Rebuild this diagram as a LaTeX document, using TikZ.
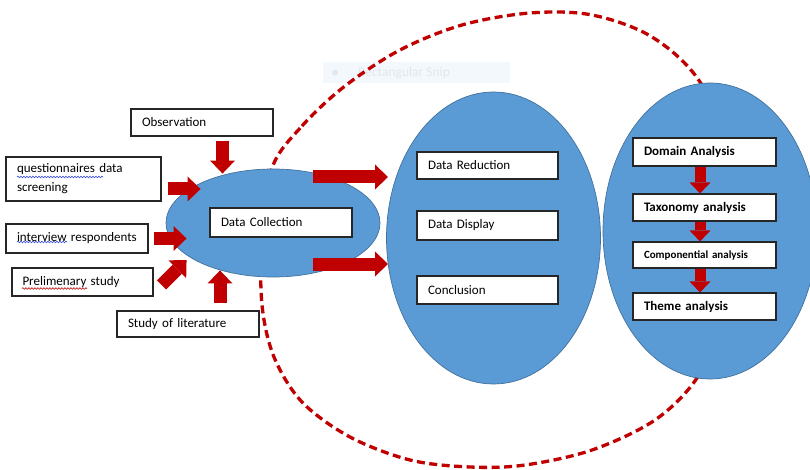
\documentclass[tikz,border=0pt]{standalone}
\usepackage{fontspec}
\setmainfont{Carlito}
\usetikzlibrary{arrows.meta,shapes.geometric,decorations.pathmorphing}
\definecolor{dred}{HTML}{C00000}
\definecolor{eblue}{HTML}{5B9BD5}
\definecolor{eborder}{HTML}{41719C}
\definecolor{snipbg}{HTML}{F3F8FD}
\definecolor{snipfg}{HTML}{E3E7EC}
\definecolor{spellblue}{HTML}{3B4FE0}
\begin{document}
\begin{tikzpicture}[x=1pt,y=-1pt,
  blob/.style={ellipse, draw=eborder, line width=0.7pt, fill=eblue, inner sep=0pt},
  box/.style={draw=black!85, fill=white, line width=1.1pt, inner xsep=11pt, inner ysep=0pt,
    align=left, font=\fontsize{13}{19}\selectfont},
  bbox/.style={box, font=\fontsize{13}{16}\bfseries},
  bigarrow/.style={draw=dred, line width=13pt, -{Triangle[length=13pt,width=25pt,line width=0pt]}},
  smallarrow/.style={draw=dred, line width=11pt, -{Triangle[length=11pt,width=21pt,line width=0pt]}},
  loopline/.style={draw=dred, line width=3.3pt, dash pattern=on 8pt off 4.5pt},
  spell/.style={line width=0.6pt, decorate, decoration={snake, amplitude=0.8pt, segment length=3pt}}
]
\useasboundingbox (0,0) rectangle (810,470);
\fill[white] (0,0) rectangle (810,470);

% faint screenshot artefact
\fill[snipbg] (323,62) rectangle (510,83);
\fill[snipfg] (335,72.5) circle (3);
\node[anchor=west, text=snipfg, inner sep=0pt, font=\fontsize{13.5}{15}\selectfont] (snip) at (358,72.5) {Rectangular Snip};

% dashed loop
\draw[loopline] plot[smooth cycle, tension=0.55] coordinates {
 (272,168) (302,126) (345,86) (400,50) (462,25) (530,13) (592,15) (652,37) (700,82)
 (732,160) (738,240) (722,320) (697,378) (655,420) (592,450) (525,465) (470,467)
 (410,460) (350,437) (302,402) (274,357) (262,305) (262,240)};

% ellipses
\node[blob, minimum width=214pt, minimum height=108pt] (dce) at (273,223) {};
\node[blob, minimum width=214pt, minimum height=292pt] (mid) at (493.5,238) {};
\node[blob, minimum width=214pt, minimum height=296pt] (rgt) at (710,231) {};

% left boxes
\node[box, text width=120pt, minimum height=27pt] (obs) at (202,122.5) {Observation};
\node[box, text width=133pt, minimum height=44pt] (ques) at (83.5,179) {questionnaires data\\screening};
\node[box, text width=120pt, minimum height=29pt] (intv) at (77,238.5) {\mbox{interview respondents}};
\node[box, text width=120pt, minimum height=28pt, inner xsep=10.5pt] (prel) at (82.5,282) {Prelimenary study};
\node[box, text width=120pt, minimum height=26pt] (lit) at (188,324) {Study of literature};
\node[box, text width=120pt, minimum height=29pt] (dc) at (281,222.5) {Data Collection};

% middle boxes
\node[box, text width=119pt, minimum height=27pt] (dr) at (487.5,165.5) {Data Reduction};
\node[box, text width=119pt, minimum height=29pt] (dd) at (487.5,225.5) {Data Display};
\node[box, text width=119pt, minimum height=28pt] (cc) at (487.5,290) {Conclusion};

% right boxes
\node[bbox, text width=121pt, minimum height=28pt] (da) at (704.5,152) {Domain Analysis};
\node[bbox, text width=121pt, minimum height=27pt] (ta) at (704.5,207.5) {Taxonomy analysis};
\node[bbox, text width=121pt, minimum height=26pt, font=\fontsize{11}{13}\bfseries] (ca) at (704.5,255) {Componential analysis};
\node[bbox, text width=121pt, minimum height=27pt] (th) at (704.5,306.5) {Theme analysis};

% spelling underlines
\draw[spell, spellblue] (17,177) -- (103,177);
\draw[spell, spellblue] (17,242) -- (67,242);
\draw[spell, dred] (22,288.5) -- (87,288.5);

% input arrows
\draw[bigarrow] ([shift={(20.5pt,-4pt)}]obs.south) -- ++(0,33);
\draw[bigarrow] ([shift={(6pt,-10pt)}]ques.east) -- ++(33,0);
\draw[bigarrow] ([xshift=5pt]intv.east) -- ++(33,0);
\draw[bigarrow] ([shift={(8pt,-3pt)}]prel.east) -- ++(25,-25);
\draw[bigarrow] ([shift={(32pt,7pt)}]lit.north) -- ++(0,-33);

% output arrows
\draw[bigarrow] ([shift={(40pt,46pt)}]dce.center) -- ++(75,0);
\draw[bigarrow] ([shift={(40pt,-41pt)}]dce.center) -- ++(75,0);

% analysis chain
\draw[smallarrow] ([xshift=-4.5pt]da.south) -- ([xshift=-4.5pt]ta.north);
\draw[smallarrow] ([xshift=-4.5pt]ta.south) -- ([xshift=-4.5pt]ca.north);
\draw[smallarrow] ([xshift=-4.5pt]ca.south) -- ([xshift=-4.5pt]th.north);
\end{tikzpicture}
\end{document}
